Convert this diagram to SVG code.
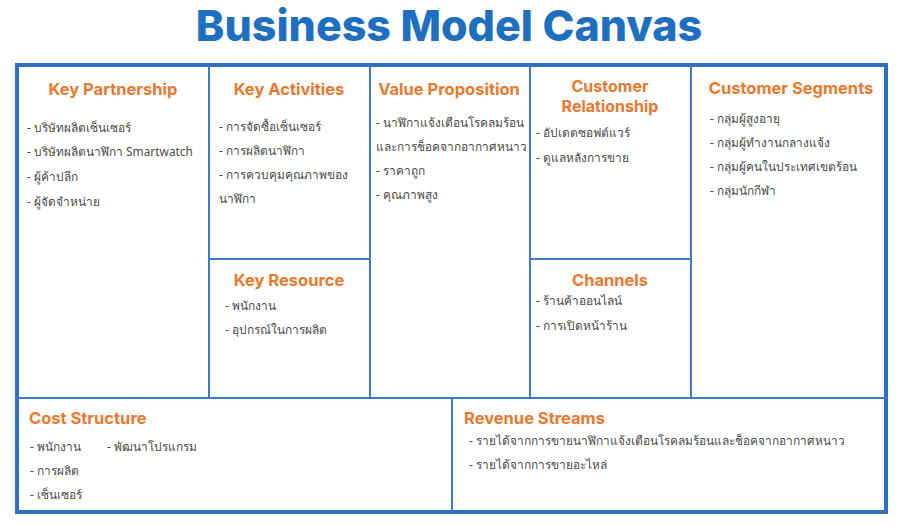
<svg xmlns="http://www.w3.org/2000/svg" width="903" height="525" viewBox="0 0 903 525">
<style>
.title{font-family:"Inter","Noto Sans",sans-serif;font-weight:800;font-size:43px;fill:#1f6fc1;text-anchor:middle}
.h{font-family:"Inter","Noto Sans",sans-serif;font-weight:700;font-size:16.5px;fill:#e9782f;text-anchor:middle}
.hl{font-family:"Inter","Noto Sans",sans-serif;font-weight:700;font-size:16.5px;fill:#e9782f}
.t{font-family:"Noto Sans","DejaVu Sans",sans-serif;font-size:11.9px;fill:#4a4a4a}
.box{fill:none;stroke:#3a7cc8;stroke-width:2}
</style>
<rect width="903" height="525" fill="#ffffff"/>
<text class="title" x="449" y="41">Business Model Canvas</text>
<g id="connectors">
<rect x="17" y="65" width="869" height="447" fill="none" stroke="#2f6fc0" stroke-width="4"/>
<line class="box" x1="209" y1="65" x2="209" y2="398"/>
<line class="box" x1="370" y1="65" x2="370" y2="398"/>
<line class="box" x1="530" y1="65" x2="530" y2="398"/>
<line class="box" x1="691" y1="65" x2="691" y2="398"/>
<line class="box" x1="17" y1="398" x2="886" y2="398"/>
<line class="box" x1="452" y1="398" x2="452" y2="512"/>
<line class="box" x1="209" y1="259" x2="370" y2="259"/>
<line class="box" x1="530" y1="259" x2="691" y2="259"/>
</g>
<g id="key-partnership">
<text class="h" x="113" y="95">Key Partnership</text>
<text class="t" x="27" y="132">- บริษัทผลิตเซ็นเซอร์</text>
<text class="t" x="27" y="156">- บริษัทผลิตนาฬิกา Smartwatch</text>
<text class="t" x="27" y="181">- ผู้ค้าปลีก</text>
<text class="t" x="27" y="206">- ผู้จัดจำหน่าย</text>
</g>
<g id="key-activities">
<text class="h" x="289" y="95">Key Activities</text>
<text class="t" x="219" y="131">- การจัดซื้อเซ็นเซอร์</text>
<text class="t" x="219" y="155">- การผลิตนาฬิกา</text>
<text class="t" x="219" y="179">- การควบคุมคุณภาพของ</text>
<text class="t" x="219" y="203">นาฬิกา</text>
</g>
<g id="value-proposition">
<text class="h" x="449" y="95">Value Proposition</text>
<text class="t" x="376" y="127">- นาฬิกาแจ้งเตือนโรคลมร้อน</text>
<text class="t" x="376" y="151">และการช็อคจากอากาศหนาว</text>
<text class="t" x="376" y="175">- ราคาถูก</text>
<text class="t" x="376" y="199">- คุณภาพสูง</text>
</g>
<g id="customer-relationship">
<text class="h" x="610" y="92" style="font-size:16px">Customer</text>
<text class="h" x="610" y="112" style="font-size:16px">Relationship</text>
<text class="t" x="536" y="137">- อัปเดตซอฟต์แวร์</text>
<text class="t" x="536" y="162">- ดูแลหลังการขาย</text>
</g>
<g id="customer-segments">
<text class="h" x="791" y="94">Customer Segments</text>
<text class="t" x="710" y="123">- กลุ่มผู้สูงอายุ</text>
<text class="t" x="710" y="147">- กลุ่มผู้ทำงานกลางแจ้ง</text>
<text class="t" x="710" y="171">- กลุ่มผู้คนในประเทศเขตร้อน</text>
<text class="t" x="710" y="195">- กลุ่มนักกีฬา</text>
</g>
<g id="key-resource">
<text class="h" x="289" y="286">Key Resource</text>
<text class="t" x="225" y="310">- พนักงาน</text>
<text class="t" x="225" y="334">- อุปกรณ์ในการผลิต</text>
</g>
<g id="channels">
<text class="h" x="610" y="286">Channels</text>
<text class="t" x="536" y="305">- ร้านค้าออนไลน์</text>
<text class="t" x="536" y="330">- การเปิดหน้าร้าน</text>
</g>
<g id="cost-structure">
<text class="hl" x="29" y="424">Cost Structure</text>
<text class="t" x="30" y="451">- พนักงาน</text>
<text class="t" x="107" y="451">- พัฒนาโปรแกรม</text>
<text class="t" x="30" y="475">- การผลิต</text>
<text class="t" x="30" y="499">- เซ็นเซอร์</text>
</g>
<g id="revenue-streams">
<text class="hl" x="464" y="424">Revenue Streams</text>
<text class="t" x="469" y="445">- รายได้จากการขายนาฬิกาแจ้งเตือนโรคลมร้อนและช็อคจากอากาศหนาว</text>
<text class="t" x="469" y="469">- รายได้จากการขายอะไหล่</text>
</g>
</svg>
